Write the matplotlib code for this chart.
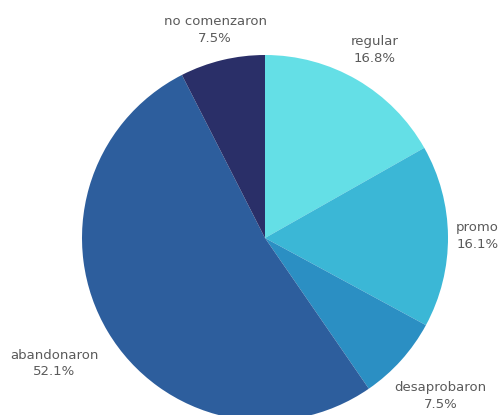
import numpy as np
import matplotlib.pyplot as plt

labels = ["regular", "promo", "desaprobaron", "abandonaron", "no comenzaron"]
values = [16.8, 16.1, 7.5, 52.1, 7.5]
colors = ["#64dfe6", "#3bb7d6", "#2b8fc3", "#2d5e9d", "#2a2f68"]
label_dist = [1.19, 1.16, 1.29, 1.34, 1.17]

fig = plt.figure(figsize=(5.02, 4.15), dpi=100)
ax = fig.add_axes([0, 0, 1, 1])

wedges, _ = ax.pie(values, colors=colors, startangle=90, counterclock=False,
                   radius=1.0, wedgeprops=dict(linewidth=0))

for w, lab, val, d in zip(wedges, labels, values, label_dist):
    ang = np.deg2rad((w.theta1 + w.theta2) / 2)
    ax.text(d * np.cos(ang), d * np.sin(ang), f"{lab}\n{val}%",
            ha="center", va="center", fontsize=9.5, color="#5a5a5a",
            linespacing=1.35)

ax.set_xlim(-265 / 183, (502 - 265) / 183)
ax.set_ylim(-177 / 183, 238 / 183)
ax.set_aspect("equal")
ax.axis("off")

fig.savefig("out.png", dpi=100)
